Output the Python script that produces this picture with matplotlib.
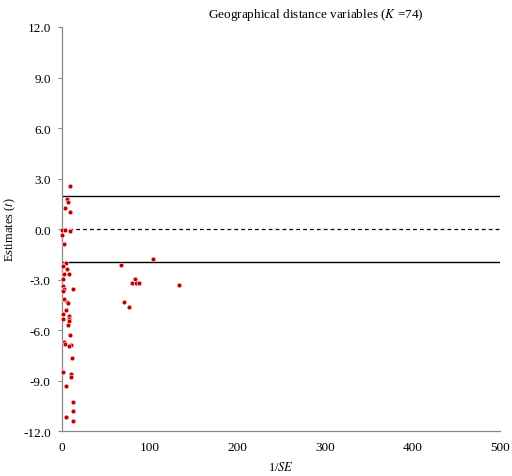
import matplotlib
matplotlib.use("Agg")
import matplotlib.pyplot as plt

# precision (1/SE) and t-estimates
inv_se = [9.7, 6.0, 6.6, 3.2, 9.4, 0.0, 3.7, 9.4, 0.3, 2.0,
          4.4, 1.3, 5.5, 8.6, 2.5, 1.0, 1.0, 2.5, 1.0, 12.8,
          2.0, 6.0, 7.0, 5.0, 1.0, 8.6, 8.6, 1.0, 7.8, 6.6,
          9.4, 2.0, 3.2, 10.0, 8.6, 11.3, 1.0, 10.5, 10.5, 5.0,
          12.5, 12.5, 5.0, 12.5,
          66.9, 103.9, 83.3, 79.9, 84.4, 87.9, 133.0, 71.1, 76.4]
t_est = [2.54, 1.78, 1.62, 1.23, 0.99, -0.08, -0.06, -0.12, -0.38, -0.91,
         -2.02, -2.18, -2.38, -2.69, -2.67, -2.97, -3.37, -3.57, -3.70, -3.57,
         -4.16, -4.32, -4.40, -4.81, -5.05, -5.15, -5.35, -5.35, -5.47, -5.70,
         -6.30, -6.70, -6.83, -6.89, -6.93, -7.68, -8.48, -8.62, -8.81, -9.35,
         -10.30, -10.83, -11.19, -11.41,
         -2.12, -1.80, -2.97, -3.19, -3.19, -3.19, -3.35, -4.32, -4.63]

x_ticks = [0, 100, 200, 300, 400, 500]
y_ticks = [-12, -9, -6, -3, 0, 3, 6, 9, 12]
crit = 1.96

plt.rcParams['font.family'] = ['Liberation Serif', 'DejaVu Serif']
plt.rcParams['mathtext.fontset'] = 'stix'

fig = plt.figure(figsize=(5.12, 4.77), dpi=100)
ax = fig.add_axes([0.121, 0.0943, 0.856, 0.847])

ax.plot([0, 500], [crit, crit], color='black', lw=1.0)
ax.plot([0, 500], [-crit, -crit], color='black', lw=1.0)
ax.plot([0, 500], [0, 0], color='black', lw=0.9, ls=(0, (3, 2.5)))

ax.scatter(inv_se, t_est, s=12, color='#C00000', edgecolors='white',
           linewidths=0.4, zorder=3, clip_on=False)

ax.set_xlim(0, 500)
ax.set_ylim(-12, 12)
ax.set_xticks(x_ticks)
ax.set_yticks(y_ticks)
ax.set_yticklabels([f"{v:.1f}" for v in y_ticks])
ax.spines['top'].set_visible(False)
ax.spines['right'].set_visible(False)
for s in ('left', 'bottom'):
    ax.spines[s].set_color('#888888')
    ax.spines[s].set_linewidth(0.9)
ax.tick_params(axis='y', length=3, color='#888888', labelsize=9.5, pad=5)
ax.tick_params(axis='x', length=0, labelsize=9.5, pad=7)

ax.set_xlabel('1/$SE$', fontsize=9, labelpad=5)
ax.set_ylabel('Estimates ($t$)', fontsize=9, labelpad=4)

fig.text(0.617, 0.968, 'Geographical distance variables ($K$ =74)',
         ha='center', va='center', fontsize=9.5)

fig.savefig('out.png', dpi=100)
